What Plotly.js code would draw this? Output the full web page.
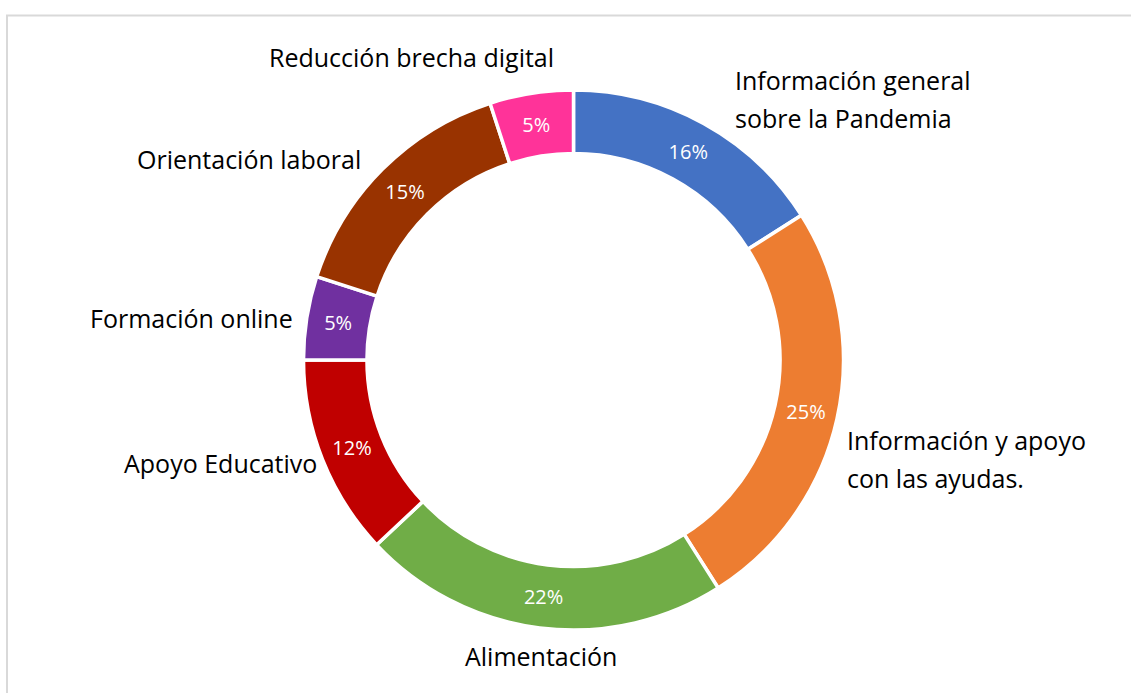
<!DOCTYPE html>
<html>
<head>
<meta charset="utf-8">
<script src="https://cdn.plot.ly/plotly-3.0.1.min.js"></script>
<style>html,body{margin:0;padding:0;background:#fff;}#chart{width:1131px;height:693px;}</style>
</head>
<body>
<div id="chart"></div>
<script>
const categories = [
  "Información general<br>sobre la Pandemia",
  "Información y apoyo<br>con las ayudas.",
  "Alimentación",
  "Apoyo Educativo",
  "Formación online",
  "Orientación laboral",
  "Reducción brecha digital"
];
const values = [16, 25, 22, 12, 5, 15, 5];
const colors = ["#4472C4", "#ED7D31", "#70AD47", "#C00000", "#7030A0", "#993300", "#FF3399"];

// label placement (pixels, first line centre) for outside category labels
const labelPos = [
  {x: 733, y: 80, xanchor: "left", align: "left"},
  {x: 845, y: 440, xanchor: "left", align: "left"},
  {x: 541, y: 656, xanchor: "center", align: "center"},
  {x: 319, y: 463, xanchor: "right", align: "right"},
  {x: 295, y: 318, xanchor: "right", align: "right"},
  {x: 363, y: 159, xanchor: "right", align: "right"},
  {x: 411, y: 57, xanchor: "center", align: "center"}
];
const LINE_GAP = 38;

const W = 1131, H = 693;
const cx = 573.5, cy = 360, R = 270;
const FONT = "Open Sans, Noto Sans, sans-serif";

const trace = {
  type: "pie",
  labels: categories,
  values: values,
  sort: false,
  direction: "clockwise",
  rotation: 0,
  hole: 0.765,
  marker: {colors: colors, line: {color: "#ffffff", width: 3.5}},
  textinfo: "percent",
  texttemplate: "%{percent:.0%}",
  textposition: "inside",
  insidetextorientation: "horizontal",
  textfont: {family: FONT, size: 20, color: "#ffffff"},
  domain: {x: [(cx - R) / W, (cx + R) / W], y: [(H - cy - R) / H, (H - cy + R) / H]},
  showlegend: false,
  hoverinfo: "label+percent"
};

const annotations = [];
categories.forEach((c, i) => {
  c.split("<br>").forEach((line, j) => {
    annotations.push({
      text: line,
      xref: "paper", yref: "paper",
      x: labelPos[i].x / W, y: 1 - (labelPos[i].y + j * LINE_GAP) / H,
      xanchor: labelPos[i].xanchor, yanchor: "middle",
      align: labelPos[i].align,
      showarrow: false,
      font: {family: FONT, size: 25, color: "#000000"}
    });
  });
});

const layout = {
  width: W, height: H,
  margin: {l: 0, r: 0, t: 0, b: 0},
  paper_bgcolor: "#ffffff",
  annotations: annotations,
  shapes: [{
    type: "rect", xref: "paper", yref: "paper",
    x0: 7 / W, x1: 1.05, y0: -0.05, y1: 1 - 15.5 / H,
    line: {color: "#d9d9d9", width: 2}, fillcolor: "rgba(0,0,0,0)"
  }]
};

Plotly.newPlot("chart", [trace], layout, {displayModeBar: false, staticPlot: true});
</script>
</body>
</html>
